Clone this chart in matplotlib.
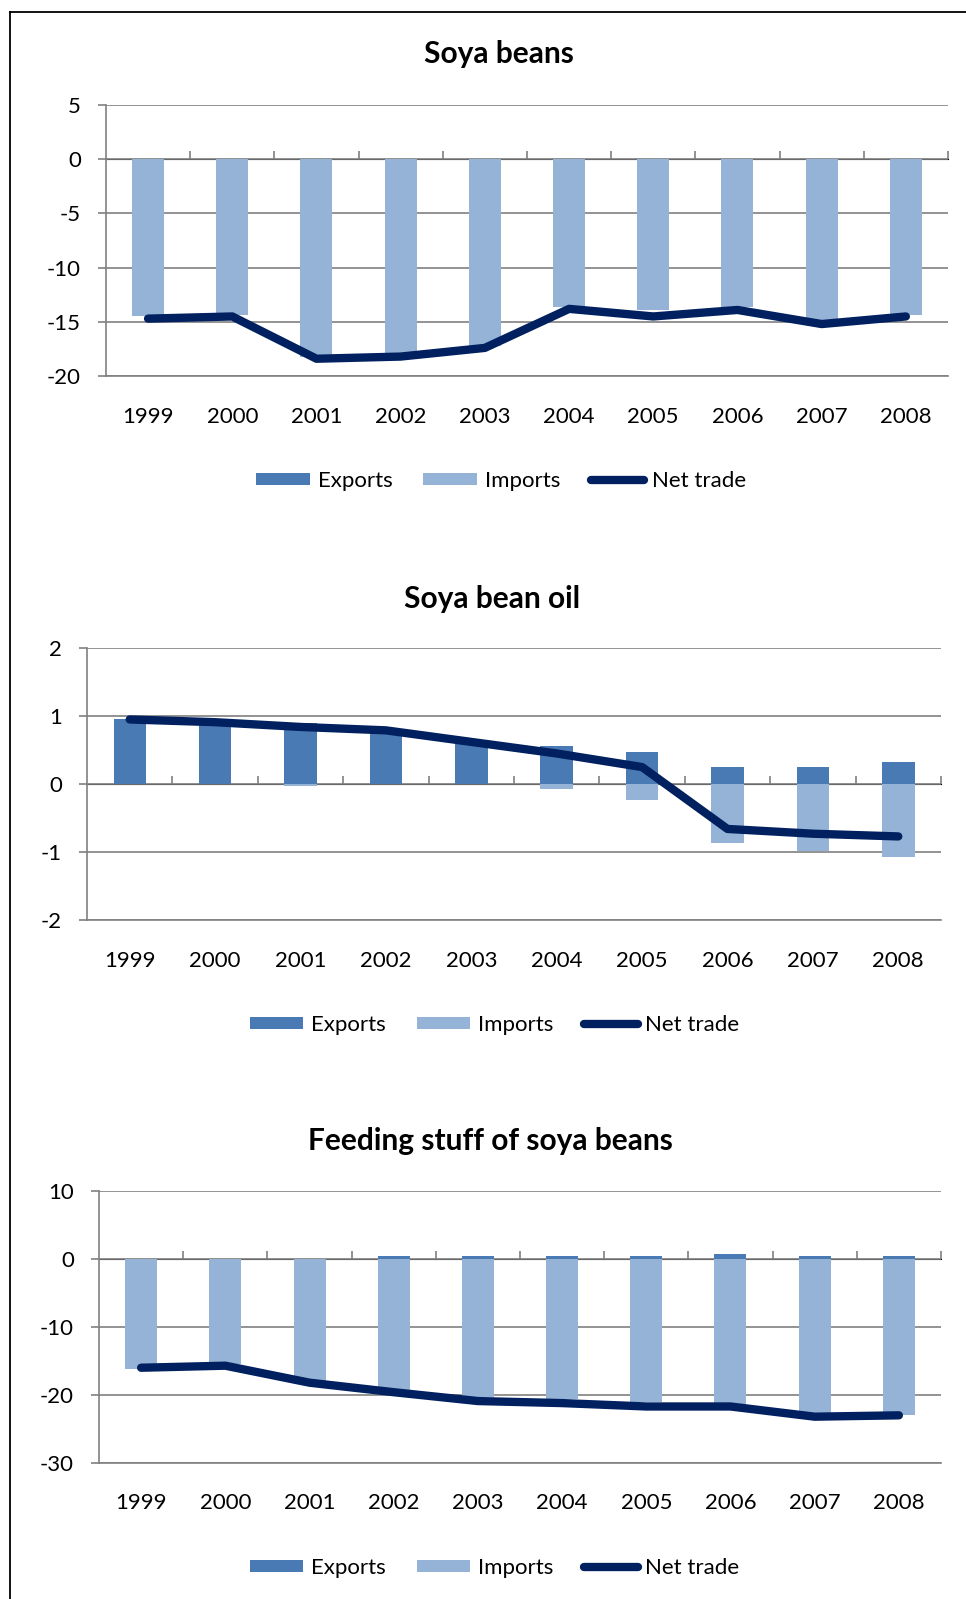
import matplotlib.pyplot as plt
from matplotlib.patches import Patch
from matplotlib.lines import Line2D
import numpy as np

plt.rcParams['font.family'] = ['Lato', 'DejaVu Sans']
plt.rcParams['axes.unicode_minus'] = False

years = ['1999', '2000', '2001', '2002', '2003', '2004', '2005', '2006', '2007', '2008']

# Soya beans
beans_exports = [0.0, 0.0, 0.0, 0.0, 0.0, 0.0, 0.0, 0.0, 0.0, 0.0]
beans_imports = [-14.5, -14.4, -18.2, -17.9, -17.2, -13.6, -13.9, -13.6, -14.9, -14.4]
beans_net = [-14.7, -14.5, -18.4, -18.2, -17.4, -13.8, -14.5, -13.9, -15.2, -14.5]

# Soya bean oil
oil_exports = [0.96, 0.93, 0.90, 0.80, 0.65, 0.56, 0.47, 0.25, 0.25, 0.33]
oil_imports = [0.0, 0.0, -0.03, 0.0, 0.0, -0.07, -0.24, -0.87, -0.99, -1.07]
oil_net = [0.95, 0.91, 0.84, 0.79, 0.62, 0.45, 0.25, -0.66, -0.73, -0.77]

# Feeding stuff of soya beans
feed_exports = [0.0, 0.0, 0.0, 0.4, 0.4, 0.4, 0.4, 0.7, 0.4, 0.4]
feed_imports = [-16.2, -15.4, -17.9, -19.3, -20.3, -20.6, -21.1, -21.3, -22.6, -23.0]
feed_net = [-16.0, -15.7, -18.2, -19.6, -20.9, -21.2, -21.7, -21.7, -23.2, -23.0]

EXP_COL = '#4A7AB4'
IMP_COL = '#95B3D7'
NET_COL = '#002060'
GRID_COL = '#808080'

fig = plt.figure(figsize=(9.66, 15.99), dpi=100)

# frame around the whole picture (top and left edges only visible)
fig.add_artist(Line2D([0.0104, 1.0], [0.9922, 0.9922], color='black', lw=1.3))
fig.add_artist(Line2D([0.0104, 0.0104], [0.0, 0.9922], color='black', lw=1.3))

panels = [
    # title, exports, imports, net, ylim, step, axes rect, title pos, legend x
    ("Soya beans", beans_exports, beans_imports, beans_net, (-20, 5), 5,
     [0.1097, 0.7648, 0.8716, 0.1695], (0.516, 0.9660), 0.519),
    ("Soya bean oil", oil_exports, oil_imports, oil_net, (-2, 2), 1,
     [0.0901, 0.4246, 0.8840, 0.1701], (0.509, 0.6255), 0.512),
    ("Feeding stuff of soya beans", feed_exports, feed_imports, feed_net, (-30, 10), 10,
     [0.1025, 0.0851, 0.8716, 0.1701], (0.508, 0.2865), 0.512),
]

x = np.arange(len(years))
width = 0.38

for title, exp, imp, net, ylim, step, rect, tpos, legx in panels:
    ax = fig.add_axes(rect)
    ax.bar(x, imp, width, color=IMP_COL, zorder=2)
    ax.bar(x, exp, width, color=EXP_COL, zorder=2)
    ax.plot(x, net, color=NET_COL, lw=6.0, solid_capstyle='round',
            solid_joinstyle='round', zorder=4)

    ax.set_xlim(-0.5, len(years) - 0.5)
    ax.set_ylim(*ylim)
    ax.set_yticks(np.arange(ylim[0], ylim[1] + step / 2, step))
    ax.yaxis.grid(True, color=GRID_COL, lw=1.2, zorder=0)
    ax.set_axisbelow(True)

    for s in ['top', 'right']:
        ax.spines[s].set_visible(False)
    ax.spines['left'].set_color(GRID_COL)
    ax.spines['left'].set_linewidth(1.2)
    ax.spines['bottom'].set_color(GRID_COL)
    ax.spines['bottom'].set_linewidth(1.2)

    ax.tick_params(axis='y', length=6, width=1.2, color=GRID_COL, pad=12, labelsize=16)
    ax.set_xticks(x)
    ax.set_xticklabels(years)
    ax.tick_params(axis='x', length=0, pad=22, labelsize=16)

    # category axis crossing at zero with outward tick marks
    zero_frac = (0 - ylim[0]) / (ylim[1] - ylim[0])
    sec = ax.secondary_xaxis(zero_frac)
    sec.set_xticks(np.arange(0.5, len(years) - 0.5, 1.0).tolist() + [len(years) - 0.5])
    sec.set_xticklabels([])
    sec.tick_params(axis='x', direction='out', length=6, width=1.2, color=GRID_COL)
    sec.spines['bottom'].set_color(GRID_COL)
    sec.spines['bottom'].set_linewidth(1.2)

    fig.text(tpos[0], tpos[1], title, ha='center', va='center',
             fontsize=21.5, fontweight='bold')

    handles = [Patch(facecolor=EXP_COL, edgecolor='none'),
               Patch(facecolor=IMP_COL, edgecolor='none'),
               Line2D([0], [0], color=NET_COL, lw=6.0, solid_capstyle='round')]
    leg_y = rect[1] - 0.0655
    ax.legend(handles, ['Exports', 'Imports', 'Net trade'], loc='center',
              bbox_to_anchor=(legx, leg_y), bbox_transform=fig.transFigure,
              ncol=3, frameon=False, fontsize=16, handlelength=2.4,
              handleheight=0.45, handletextpad=0.35, columnspacing=1.4)

fig.savefig('out.png', dpi=100)
